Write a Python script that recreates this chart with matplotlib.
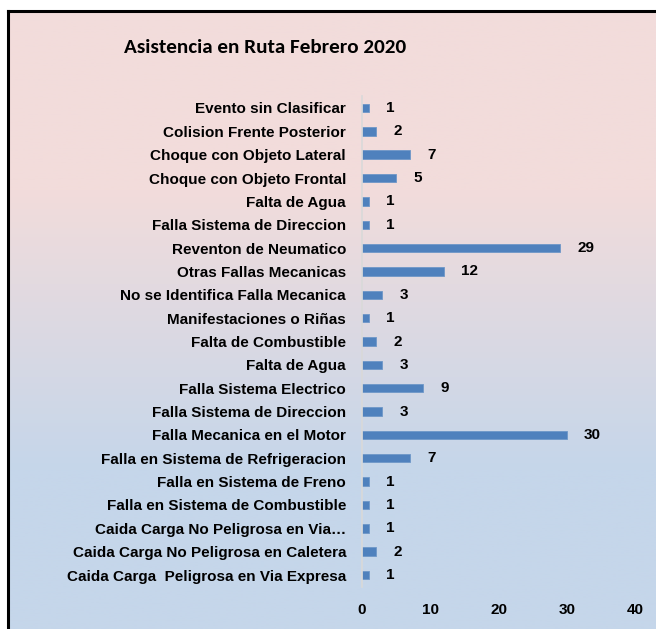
import numpy as np
import matplotlib
matplotlib.use("Agg")
import matplotlib.pyplot as plt

categories = [
    "Caida Carga  Peligrosa en Via Expresa",
    "Caida Carga No Peligrosa en Caletera",
    "Caida Carga No Peligrosa en Via…",
    "Falla en Sistema de Combustible",
    "Falla en Sistema de Freno",
    "Falla en Sistema de Refrigeracion",
    "Falla Mecanica en el Motor",
    "Falla Sistema de Direccion",
    "Falla Sistema Electrico",
    "Falta de Agua",
    "Falta de Combustible",
    "Manifestaciones o Riñas",
    "No se Identifica Falla Mecanica",
    "Otras Fallas Mecanicas",
    "Reventon de Neumatico",
    "Falla Sistema de Direccion",
    "Falta de Agua",
    "Choque con Objeto Frontal",
    "Choque con Objeto Lateral",
    "Colision Frente Posterior",
    "Evento sin Clasificar",
]
values = [1, 2, 1, 1, 1, 7, 30, 3, 9, 3, 2, 1, 3, 12, 29, 1, 1, 5, 7, 2, 1]
xticks = [0, 10, 20, 30, 40]
title = "Asistencia en Ruta Febrero 2020"

W, H = 656, 629
fig = plt.figure(figsize=(W / 100, H / 100), dpi=100, facecolor="white")

# background gradient panel
bg = fig.add_axes([7.5 / W, 0, 1 - 7.5 / W, 1 - 10.5 / H], zorder=0)
pink = np.array([242, 220, 219]) / 255
blue = np.array([197, 214, 234]) / 255
ys = np.linspace(0, 1, 400)  # 0 = top
y_px = 10 + ys * (H - 10)
t = np.clip((y_px - 190) / (470 - 190), 0, 1)
grad = pink[None, :] * (1 - t[:, None]) + blue[None, :] * t[:, None]
bg.imshow(grad[:, None, :], aspect="auto", extent=[0, 1, 0, 1], origin="upper")
bg.set_xticks([])
bg.set_yticks([])
for s in ["right", "bottom"]:
    bg.spines[s].set_visible(False)
for s in ["top", "left"]:
    bg.spines[s].set_linewidth(2.2)
    bg.spines[s].set_color("black")

fig.text(265 / W, 1 - 47.5 / H, title, ha="center", va="center",
         fontsize=15.2, fontweight="bold", family=["Carlito", "DejaVu Sans"])

ax = fig.add_axes([362 / W, 1 - 586.7 / H, 273 / W, 490.4 / H], zorder=2)
ax.patch.set_alpha(0)
pos = np.arange(len(categories))
ax.barh(pos, values, height=0.36, color="#4F81BD", edgecolor="#6E97C8", linewidth=0.6)
ax.set_xlim(0, 40)
ax.set_ylim(-0.5, len(categories) - 0.5)
ax.set_yticks(pos)
ax.set_yticklabels(categories)
ax.set_xticks(xticks)
ax.set_xticklabels([str(x) for x in xticks])
font = ["Liberation Sans", "DejaVu Sans"]
fs = 11
for lab in ax.get_yticklabels():
    lab.set_family(font)
    lab.set_fontweight("bold")
    lab.set_fontsize(fs)
for lab in ax.get_xticklabels():
    lab.set_family(font)
    lab.set_fontweight("bold")
    lab.set_fontsize(fs)
ax.tick_params(axis="y", length=0, pad=11.5)
ax.tick_params(axis="x", length=0, pad=12)
for s in ["top", "right", "bottom"]:
    ax.spines[s].set_visible(False)
ax.spines["left"].set_color("#D9D9D9")
ax.spines["left"].set_linewidth(1.2)

for p, v in zip(pos, values):
    ax.annotate(str(v), (v, p), xytext=(12.5, 0), textcoords="offset points",
                ha="left", va="center", fontsize=fs, fontweight="bold", family=font)

fig.savefig("out.png", dpi=100, facecolor="white")
